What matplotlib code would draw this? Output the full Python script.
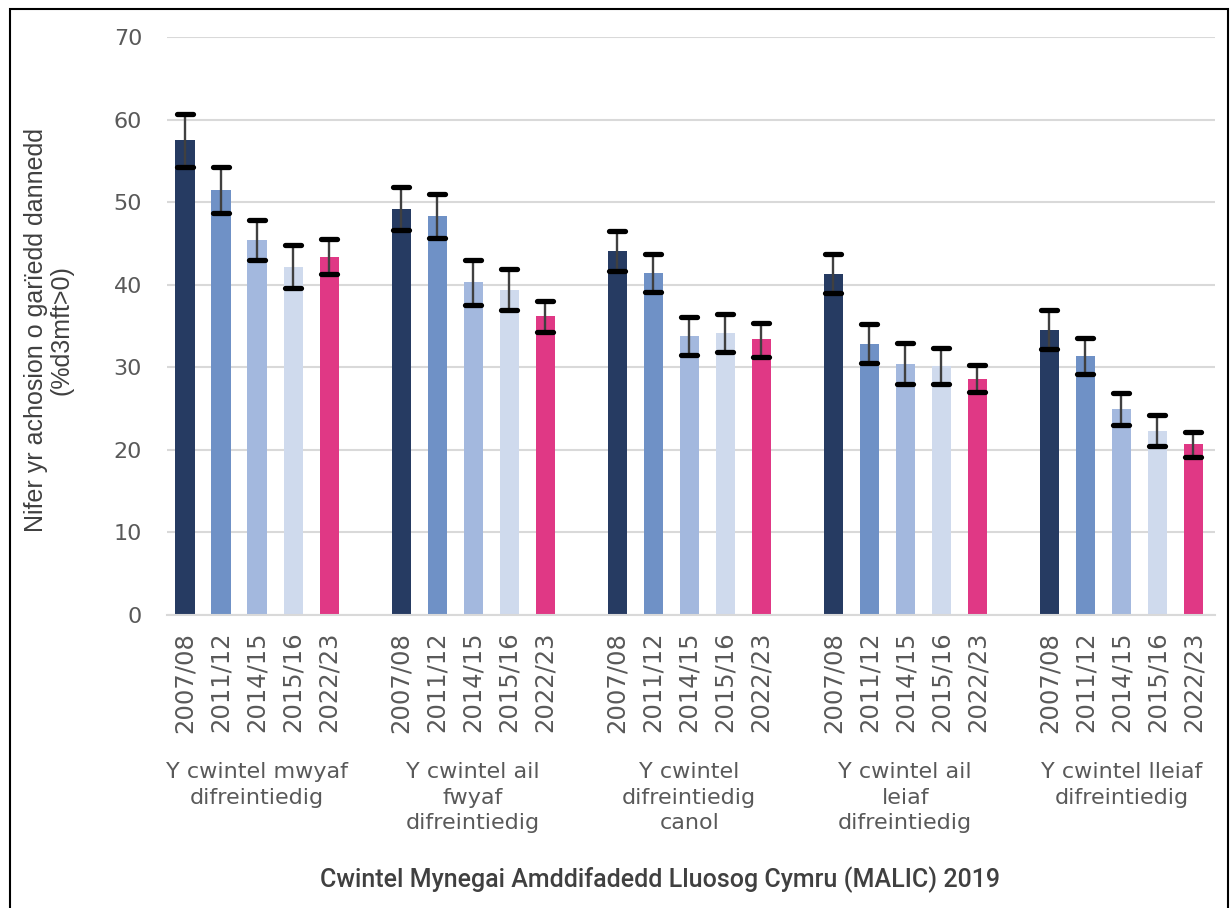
import numpy as np
import matplotlib
matplotlib.use("Agg")
import matplotlib.pyplot as plt
from matplotlib.markers import MarkerStyle
from matplotlib.patches import Rectangle

# Data
years = ["2007/08", "2011/12", "2014/15", "2015/16", "2022/23"]
groups = [
    "Y cwintel mwyaf\ndifreintiedig",
    "Y cwintel ail\nfwyaf\ndifreintiedig",
    "Y cwintel\ndifreintiedig\ncanol",
    "Y cwintel ail\nleiaf\ndifreintiedig",
    "Y cwintel lleiaf\ndifreintiedig",
]
values = [
    [57.5, 51.5, 45.4, 42.2, 43.4],
    [49.2, 48.3, 40.3, 39.4, 36.2],
    [44.1, 41.4, 33.8, 34.2, 33.4],
    [41.3, 32.8, 30.4, 30.2, 28.6],
    [34.5, 31.4, 24.9, 22.3, 20.7],
]
lower = [
    [54.3, 48.7, 43.0, 39.6, 41.3],
    [46.6, 45.6, 37.6, 36.9, 34.3],
    [41.7, 39.1, 31.5, 31.9, 31.3],
    [39.0, 30.5, 28.0, 28.0, 27.0],
    [32.2, 29.2, 23.0, 20.5, 19.1],
]
upper = [
    [60.7, 54.2, 47.8, 44.8, 45.5],
    [51.8, 51.0, 43.0, 41.9, 38.0],
    [46.5, 43.7, 36.1, 36.5, 35.4],
    [43.7, 35.2, 32.9, 32.3, 30.3],
    [36.9, 33.5, 26.9, 24.2, 22.2],
]
colors = ["#263b62", "#6f91c6", "#a3b8de", "#cfdaed", "#e03885"]

fig = plt.figure(figsize=(12.32, 9.08), dpi=100)
ax = fig.add_axes([167 / 1232, 1 - 615 / 908, (1215 - 167) / 1232, (615 - 37) / 908])

slot = len(years) + 1
xpos, heights, cols, lo, hi, ticklabels = [], [], [], [], [], []
for g in range(len(groups)):
    for i in range(len(years)):
        xpos.append(g * slot + i)
        heights.append(values[g][i])
        cols.append(colors[i])
        lo.append(values[g][i] - lower[g][i])
        hi.append(upper[g][i] - values[g][i])
        ticklabels.append(years[i])

ax.bar(xpos, heights, width=0.53, color=cols, zorder=2)
eb = ax.errorbar(xpos, heights, yerr=[lo, hi], fmt="none", ecolor="#404040",
                 elinewidth=1.7, capsize=5.6, capthick=3.8, zorder=3)
for cl in eb[1]:
    cl.set_marker(MarkerStyle("_", capstyle="round"))
    cl.set_markeredgecolor("black")

ax.set_ylim(0, 70)
ax.set_xlim(-0.5, 28.6)
ax.set_yticks(np.arange(0, 71, 10))
ax.yaxis.grid(True, color="#d9d9d9", linewidth=1.5, zorder=0)
ax.set_axisbelow(True)
for s in ["top", "right", "left"]:
    ax.spines[s].set_visible(False)
ax.spines["bottom"].set_color("#d9d9d9")
ax.spines["bottom"].set_linewidth(1.5)

ax.set_xticks(xpos)
ax.set_xticklabels(ticklabels, rotation=90, fontsize=17.5, color="#595959")
ax.tick_params(axis="x", length=0, pad=12)
ax.tick_params(axis="y", length=0, pad=18, labelsize=16, labelcolor="#595959")

for g, name in enumerate(groups):
    ax.text(g * slot + 2, -0.255, name, transform=ax.get_xaxis_transform(),
            ha="center", va="top", fontsize=16, color="#595959",
            linespacing=1.32, multialignment="center")

fig.text(49 / 1232, 1 - 330 / 908, "Nifer yr achosion o garïedd dannedd\n(%d3mft>0)",
         rotation=90, ha="center", va="center", fontsize=18, color="#404040",
         family=["Liberation Sans", "DejaVu Sans"], multialignment="center",
         linespacing=1.1)
fig.text(660 / 1232, 1 - 880 / 908, "Cwintel Mynegai Amddifadedd Lluosog Cymru (MALIC) 2019",
         ha="center", va="center", fontsize=18, color="#404040",
         family=["Roboto", "DejaVu Sans"], fontweight="medium")

fig.patches.append(Rectangle((10 / 1232, -0.05), 1218 / 1232, 1.05 - 9 / 908,
                             transform=fig.transFigure, fill=False,
                             edgecolor="black", linewidth=1.5))

fig.savefig("out.png", dpi=100)
